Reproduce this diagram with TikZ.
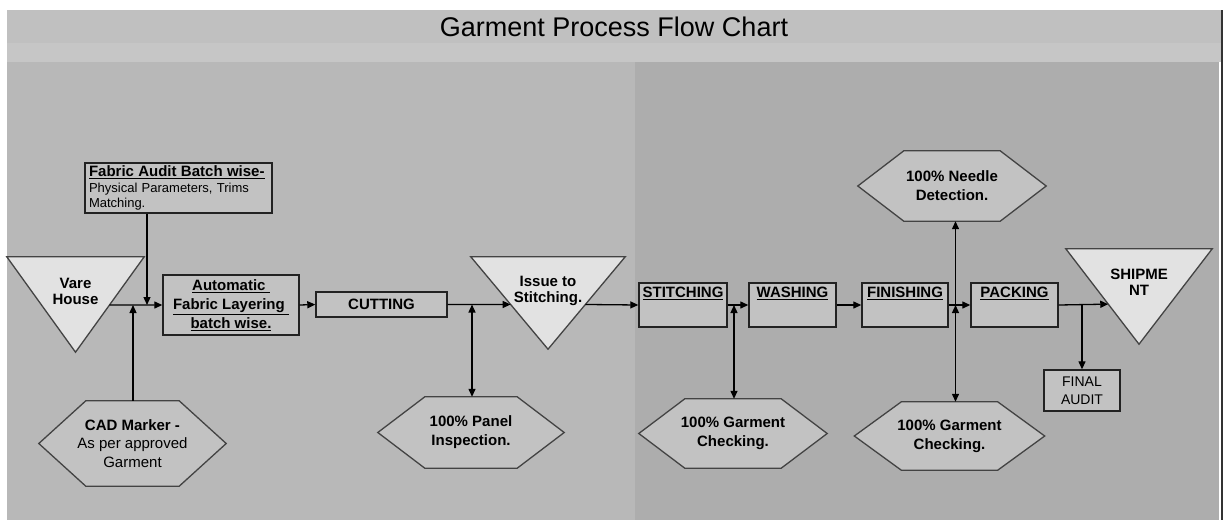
\documentclass[tikz,border=0pt]{standalone}
\usepackage{fontspec}
\setmainfont{Liberation Sans}
\usetikzlibrary{arrows.meta,calc}
\pgfdeclarelayer{bg}\pgfdeclarelayer{shp}
\pgfsetlayers{bg,shp,main}
\definecolor{titlebg}{HTML}{C0C0C0}
\definecolor{bandbg}{HTML}{C6C6C6}
\definecolor{leftbg}{HTML}{B8B8B8}
\definecolor{rightbg}{HTML}{ADADAD}
\definecolor{boxfill}{HTML}{C2C2C2}
\definecolor{trifill}{HTML}{E2E2E2}
\definecolor{edge}{HTML}{222222}
\newcommand\bft{\fontsize{15}{19}\selectfont\bfseries}
\newcommand\rgt{\fontsize{15}{18.5}\selectfont}
\newcommand\hexshape[2]{\begin{pgfonlayer}{shp}\filldraw[hexline] (#1.west) -- ([xshift=#2]#1.north west) -- ([xshift=-#2]#1.north east) -- (#1.east) -- ([xshift=-#2]#1.south east) -- ([xshift=#2]#1.south west) -- cycle;\end{pgfonlayer}}
\newcommand\trishape[1]{\begin{pgfonlayer}{shp}\filldraw[triline] (#1.north west) -- (#1.north east) -- (#1.south) -- cycle;\end{pgfonlayer}}
\begin{document}
\begin{tikzpicture}[x=1pt,y=-1pt,
  tip/.tip={Triangle[length=8pt,width=7pt]},
  arr/.style={line width=1.3pt,-tip},
  darr/.style={line width=1.3pt,tip-tip},
  boxst/.style={draw=edge,line width=1.4pt,fill=boxfill,inner sep=0pt,align=center},
  hexst/.style={inner sep=0pt,align=center},
  trist/.style={inner sep=0pt,font=\fontsize{15}{16}\selectfont\bfseries},
  hexline/.style={draw=edge!85,line width=1.3pt,fill=boxfill},
  triline/.style={draw=edge!85,line width=1.3pt,fill=trifill}]
\begin{pgfonlayer}{bg}
\fill[white] (0,0) rectangle (1223,520);
\fill[titlebg] (7,10) rectangle (1221,43);
\fill[bandbg] (7,43) rectangle (1221,62);
\fill[leftbg] (7,62) rectangle (635,520);
\fill[rightbg] (635,62) rectangle (1219,520);
\fill[black!80] (1221,10) rectangle (1223,520);
\end{pgfonlayer}
\useasboundingbox (0,0) rectangle (1223,520);

\node[anchor=base,font=\fontsize{27}{30}\selectfont] (title) at (614,36) {Garment Process Flow Chart};

% triangles
\node[trist] (wh) at (75.5,304.5) {\parbox[c][95pt][t]{137pt}{\centering\vspace*{21.5pt}Vare\\House}};
\trishape{wh}
\node[trist] (iss) at (548,303) {\parbox[c][92pt][t]{154pt}{\centering\vspace*{19.5pt}Issue to\\Stitching.}};
\trishape{iss}
\node[trist] (sh) at (1139,296.5) {\parbox[c][95pt][t]{146pt}{\centering\vspace*{20.5pt}SHIPME\\NT}};
\trishape{sh}

% boxes
\node[boxst,minimum width=187,minimum height=50,inner xsep=4pt,text width=179pt,align=left,font=\fontsize{13}{15.5}\selectfont] (fa) at (178.5,188) {{\bft\underline{Fabric Audit Batch wise-}}\\Physical Parameters, Trims\\Matching.};
\node[boxst,minimum width=136,minimum height=60,font=\bft] (auto) at (231,305) {\underline{Automatic\ }\\\underline{Fabric Layering\ }\\\underline{batch wise.}};
\node[boxst,minimum width=131,minimum height=25,font=\bft] (cut) at (381.5,304.5) {CUTTING};
\node[boxst,font=\bft] (st) at (683,305) {\parbox[c][44pt][t]{88pt}{\centering\vspace*{4.5pt}\underline{STITCHING}}};
\node[boxst,font=\bft] (wa) at (792.5,305) {\parbox[c][44pt][t]{87pt}{\centering\vspace*{4.5pt}\underline{WASHING}}};
\node[boxst,font=\bft] (fi) at (905,305) {\parbox[c][44pt][t]{86pt}{\centering\vspace*{4.5pt}\underline{FINISHING}}};
\node[boxst,font=\bft] (pk) at (1014.5,305) {\parbox[c][44pt][t]{87pt}{\centering\vspace*{4.5pt}\underline{PACKING}}};
\node[boxst,minimum width=76,minimum height=41,font=\fontsize{14}{18.5}\selectfont] (fin) at (1082,390.5) {FINAL\\AUDIT};

% hexagons
\node[hexst,minimum width=187,minimum height=85,font=\rgt] (cad) at (132.5,443.5) {{\bfseries CAD Marker -}\\As per approved\\Garment};
\hexshape{cad}{47}
\node[hexst,minimum width=186,minimum height=71,font=\bft] (panel) at (471,432.5) {100\% Panel\\Inspection.};
\hexshape{panel}{47}
\node[hexst,minimum width=188,minimum height=69,font=\bft] (g1) at (733,433.5) {100\% Garment\\Checking.};
\hexshape{g1}{46}
\node[hexst,minimum width=190,minimum height=68,font=\bft] (g2) at (949.5,436) {100\% Garment\\Checking.};
\hexshape{g2}{47}
\node[hexst,minimum width=188,minimum height=70,font=\bft] (nd) at (952,186) {100\% Needle\\Detection.};
\hexshape{nd}{46}

% connectors
\coordinate (j1) at (147,305);
\coordinate (j2) at (133,305);
\coordinate (j3) at (472,304.5);
\coordinate (j4) at (734,305);
\coordinate (j5) at (955.5,305);
\coordinate (j6) at (1082,305);
\draw[arr] ($(wh.north east)!0.505!(wh.south)$) -- (auto.west);
\draw[arr] (fa.south -| j1) -- (j1);
\draw[arr] (cad.north -| j2) -- (j2);
\draw[arr] (auto.east) -- (cut.west);
\draw[arr] (cut.east) -- ($(iss.north west)!0.516!(iss.south)$);
\draw[darr] (j3) -- (j3 |- panel.north);
\draw[arr] ($(iss.north east)!0.516!(iss.south)$) -- (st.west);
\draw[arr] (st.east) -- (wa.west);
\draw[darr] (j4) -- (j4 |- g1.north);
\draw[arr] (wa.east) -- (fi.west);
\draw[arr] (fi.east) -- (pk.west);
\draw[darr] (j5) -- (j5 |- g2.north);
\draw[arr] (j5) -- (j5 |- nd.south);
\draw[arr] (pk.east) -- ($(sh.north west)!0.58!(sh.south)$);
\draw[arr] (j6) -- (fin.north);
\end{tikzpicture}
\end{document}
